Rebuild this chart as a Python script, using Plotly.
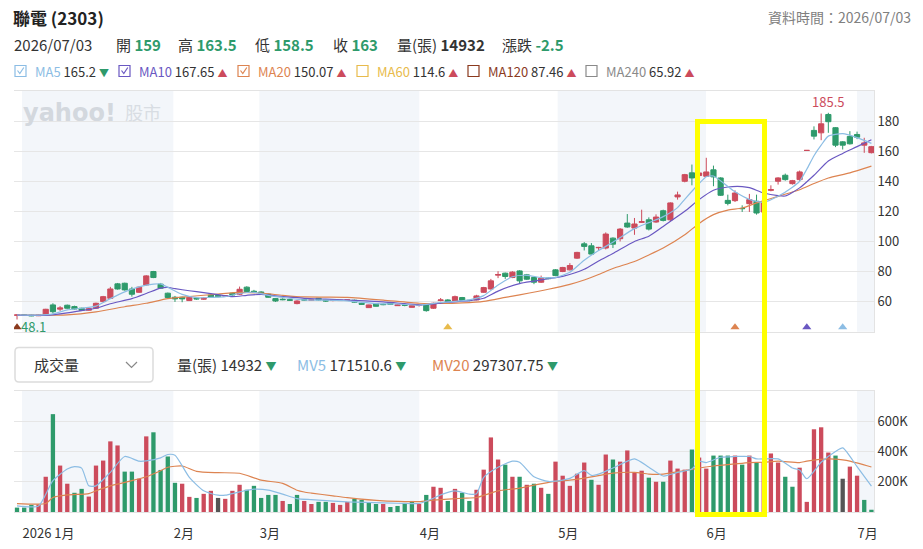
import plotly.graph_objects as go

# ---------------- data ----------------
open_ = [51.0, 51.2, 51.0, 50.6, 51.1, 57.8, 55.0, 57.6, 56.7, 55.6,
         54.3, 55.6, 60.0, 62.2, 71.8, 72.2, 68.4, 66.2, 71.1, 80.0,
         71.6, 65.6, 62.9, 62.9, 60.7, 62.2, 61.6, 64.4, 64.2, 63.8,
         65.6, 64.9, 69.6, 66.9, 66.4, 64.9, 62.0, 61.6, 61.3, 58.7,
         61.3, 60.9, 62.2, 61.1, 60.7, 60.7, 60.9, 60.9, 58.9, 56.0,
         58.7, 58.2, 59.3, 57.3, 57.8, 56.2, 57.6, 57.8, 55.6, 60.7,
         61.1, 60.0, 62.7, 60.9, 61.1, 66.2, 68.4, 77.6, 78.9, 76.0,
         80.4, 77.8, 76.0, 72.9, 75.6, 81.1, 80.0, 81.1, 88.9, 98.4,
         97.1, 95.8, 95.6, 102.2, 101.8, 112.2, 108.9, 112.7, 114.4, 112.9,
         120.4, 114.4, 129.6, 140.0, 145.6, 143.8, 143.3, 147.6, 142.2, 127.3,
         127.1, 122.0, 125.1, 126.7, 119.6, 134.0, 140.0, 144.0, 138.4, 141.1,
         160.5, 173.8, 172.2, 184.4, 175.6, 166.2, 169.8, 171.1, 164.0, 159.0]
high = [51.5, 51.6, 51.4, 51.3, 55.2, 58.9, 57.0, 58.0, 57.3, 55.9,
        56.0, 59.3, 63.8, 69.8, 72.4, 72.6, 69.8, 70.0, 77.6, 80.4,
        72.4, 66.0, 63.8, 63.3, 63.3, 62.7, 62.7, 64.9, 64.6, 64.2,
        66.0, 70.0, 70.2, 67.8, 66.9, 65.3, 62.4, 62.2, 61.8, 60.9,
        61.8, 61.6, 62.4, 61.3, 61.3, 61.1, 61.3, 61.3, 59.3, 58.0,
        59.1, 58.7, 59.8, 58.2, 58.4, 57.6, 58.0, 58.2, 59.3, 62.4,
        61.6, 64.0, 63.1, 61.1, 64.5, 69.8, 75.1, 80.2, 79.3, 80.2,
        80.9, 78.4, 76.4, 77.3, 76.0, 81.6, 83.1, 85.6, 93.1, 99.6,
        98.9, 96.4, 106.0, 102.7, 108.9, 118.2, 115.6, 121.1, 116.0, 118.0,
        121.1, 126.0, 133.1, 144.9, 151.1, 148.0, 155.6, 150.4, 142.7, 131.1,
        134.0, 124.0, 131.6, 131.1, 126.0, 137.3, 142.7, 145.1, 140.9, 147.1,
        160.5, 176.5, 185.0, 185.5, 176.0, 166.7, 173.3, 173.0, 168.9, 163.5]
low = [48.1, 50.6, 50.3, 50.4, 50.9, 52.2, 53.8, 55.3, 54.8, 54.0,
       54.0, 55.3, 59.6, 61.8, 68.0, 67.3, 63.3, 65.8, 70.7, 75.6,
       68.4, 61.8, 59.8, 59.6, 60.4, 61.3, 61.1, 62.4, 62.9, 63.3,
       63.8, 64.4, 66.2, 65.8, 65.3, 62.7, 59.8, 60.9, 60.4, 58.2,
       60.4, 60.4, 60.7, 59.8, 60.2, 60.4, 60.4, 59.3, 57.8, 55.8,
       56.7, 57.6, 58.0, 57.1, 56.9, 56.0, 56.7, 53.3, 55.1, 60.2,
       59.8, 59.8, 60.7, 60.2, 60.9, 65.8, 68.0, 75.6, 75.1, 75.6,
       72.2, 74.4, 71.6, 72.4, 74.9, 76.9, 79.6, 80.7, 88.4, 94.0,
       91.3, 94.0, 94.7, 95.6, 100.0, 109.1, 104.4, 112.4, 107.3, 112.4,
       113.3, 113.3, 127.8, 139.3, 137.3, 142.0, 142.9, 136.7, 130.2, 124.0,
       126.2, 119.6, 119.6, 117.8, 119.1, 133.3, 137.8, 140.4, 137.8, 140.0,
       160.5, 167.8, 167.3, 172.2, 162.7, 161.1, 164.4, 168.0, 158.9, 158.5]
close = [51.1, 50.9, 50.6, 51.0, 54.9, 53.3, 55.8, 55.6, 55.1, 54.2,
         55.3, 58.9, 63.3, 68.4, 68.4, 67.8, 64.9, 69.6, 77.1, 76.0,
         68.9, 62.7, 61.8, 61.8, 62.9, 61.8, 62.2, 62.9, 63.3, 63.8,
         64.4, 68.2, 66.7, 66.4, 65.8, 62.9, 60.4, 61.3, 60.9, 60.4,
         61.1, 61.3, 61.1, 60.4, 60.9, 60.9, 61.1, 59.6, 58.2, 57.8,
         56.9, 58.0, 58.2, 57.8, 57.6, 57.3, 57.8, 54.0, 58.9, 61.1,
         60.0, 63.3, 60.9, 60.7, 63.8, 69.3, 73.8, 78.0, 76.7, 79.6,
         73.8, 74.9, 72.9, 75.6, 75.3, 77.3, 82.7, 84.0, 92.7, 96.7,
         91.6, 96.0, 104.9, 98.2, 108.2, 109.6, 111.6, 113.1, 108.2, 116.2,
         114.0, 125.6, 130.9, 144.4, 142.2, 145.5, 146.2, 142.9, 130.7, 125.3,
         132.2, 121.8, 127.8, 118.9, 125.6, 134.4, 142.2, 141.1, 140.4, 146.2,
         160.5, 170.0, 178.2, 179.6, 164.0, 164.0, 164.9, 169.3, 165.5, 163.0]
volume_k = [29, 29, 47, 50, 233, 647, 307, 187, 127, 153,
            102, 307, 340, 467, 440, 267, 267, 220, 500, 527,
            278, 367, 193, 187, 100, 93, 120, 140, 93, 87,
            140, 180, 147, 173, 93, 113, 113, 73, 53, 113,
            73, 53, 67, 67, 60, 47, 67, 87, 80, 60,
            53, 53, 33, 40, 60, 73, 53, 113, 167, 160,
            73, 153, 127, 73, 147, 280, 493, 347, 313, 233,
            233, 180, 187, 160, 120, 333, 240, 173, 253, 327,
            213, 180, 380, 347, 333, 407, 260, 273, 227, 200,
            200, 340, 287, 280, 413, 360, 287, 373, 373, 373,
            373, 313, 373, 327, 330, 387, 327, 233, 167, 293,
            67, 547, 560, 393, 373, 220, 300, 240, 80, 14.932]
# r = up vs previous close, g = down, n = unchanged
volume_dir = list("gggrrgrrggrrrrrggrrggggrrgrrnrrrgggggrggr"
                  "rggrrrggggrggggrgrrgrggrrrrgrgrgrgrrrrrgr"
                  "rgrrrrgrgrrrgrrgggrgrgrrrggrrrrrgnrrgg")

ma5_x = [0, 3, 5, 7, 9, 11, 13, 15, 17, 19, 20, 21, 23, 25, 27, 29, 31, 33, 35, 37,
         40, 43, 46, 50, 53, 56, 59, 61, 63, 65, 67, 69, 71, 73, 75, 77, 79, 81, 83, 86,
         88, 90, 92, 93, 95, 96, 97, 99, 100, 102, 104, 106, 108, 109, 110, 111, 112, 113,
         115, 117, 119]
ma5_y = [51.1, 51.0, 51.8, 54.5, 55.6, 57.0, 62.0, 66.5, 69.8, 71.6, 71.8, 69.5, 64.8,
         62.6, 62.8, 63.3, 65.4, 66.2, 64.2, 62.8, 61.1, 61.0, 60.5, 58.6, 58.4, 57.6,
         59.4, 60.2, 61.2, 64.0, 71.0, 76.5, 77.5, 76.0, 76.0, 79.5, 87.5, 94.0, 99.5,
         108.5, 112.5, 116.5, 122.5, 128.0, 138.5, 143.0, 143.5, 136.5, 133.0, 128.0,
         126.0, 130.0, 136.0, 140.0, 148.0, 157.0, 164.0, 170.0, 171.6, 169.0, 165.2]
ma10_x = [0, 4, 7, 9, 11, 13, 16, 18, 20, 21, 22, 24, 26, 28, 30, 32, 34, 36, 38, 40,
          43, 46, 51, 54, 56, 58, 60, 63, 65, 67, 70, 72, 74, 76, 79, 81, 83, 86, 88, 90,
          93, 95, 97, 99, 101, 102, 104, 106, 107, 109, 111, 113, 115, 117, 119]
ma10_y = [51.0, 50.9, 52.5, 54.0, 55.6, 58.6, 62.0, 65.4, 69.0, 69.4, 68.6, 67.2, 66.0,
          64.6, 63.3, 64.2, 64.8, 63.8, 63.0, 62.2, 61.6, 61.0, 59.8, 58.6, 57.8, 58.4,
          59.6, 60.6, 62.2, 67.0, 72.0, 73.6, 75.2, 76.8, 81.5, 87.0, 92.0, 100.0, 103.5,
          110.0, 120.0, 127.8, 134.0, 136.2, 136.5, 135.8, 132.2, 130.4, 130.2, 135.6,
          144.0, 153.5, 158.5, 163.0, 167.65]
ma20_x = [0, 7, 11, 15, 18, 21, 24, 28, 31, 34, 37, 40, 43, 46, 51, 56, 59, 62, 65, 68,
          70, 74, 77, 79, 81, 83, 86, 88, 90, 93, 95, 97, 99, 101, 103, 106, 109, 111,
          113, 116, 119]
ma20_y = [51.0, 51.2, 53.2, 56.6, 58.9, 62.0, 63.4, 65.0, 66.1, 65.6, 64.2, 63.1, 63.0,
          62.8, 61.0, 58.9, 58.8, 59.2, 60.2, 62.8, 64.5, 68.2, 71.5, 74.4, 78.0, 82.0,
          86.7, 91.0, 95.6, 104.4, 112.0, 117.8, 120.8, 122.2, 125.6, 130.0, 134.4, 138.5,
          142.2, 145.6, 150.07]
mv5_x = [0, 3, 5, 7, 8, 9, 10, 11, 13, 15, 17, 18, 20, 21, 22, 24, 26, 28, 29, 31,
         33, 35, 37, 39, 41, 42, 46, 51, 55, 56, 58, 59, 61, 63, 64, 65, 67, 69, 70, 72,
         74, 76, 77, 79, 80, 81, 83, 86, 88, 90, 92, 94, 95, 96, 98, 100, 102, 103, 106,
         108, 109, 110, 112, 114, 115, 117, 119]
mv5_k = [40, 40, 207, 284, 300, 290, 173, 173, 262, 367, 336, 338, 358, 380, 375, 229,
         140, 111, 111, 133, 151, 145, 118, 89, 82, 78, 67, 60, 56, 56, 91, 113, 140, 118,
         121, 229, 296, 336, 329, 233, 202, 211, 222, 273, 242, 250, 291, 351, 296, 238,
         262, 284, 336, 327, 362, 367, 367, 351, 351, 291, 278, 220, 329, 400, 424, 300,
         171.5]
mv20_x = [0, 4, 5, 7, 10, 11, 13, 16, 18, 20, 21, 23, 25, 28, 31, 34, 37, 39, 40, 41,
          44, 46, 51, 54, 56, 58, 62, 64, 67, 70, 72, 75, 77, 79, 81, 83, 86, 88, 90, 93,
          95, 97, 100, 102, 104, 106, 109, 110, 113, 115, 116, 119]
mv20_k = [56, 56, 96, 113, 122, 140, 173, 207, 233, 273, 296, 304, 269, 260, 256, 211,
          189, 144, 132, 125, 107, 95, 73, 69, 69, 78, 91, 96, 140, 158, 178, 202, 211,
          224, 240, 257, 262, 251, 251, 273, 291, 304, 318, 327, 329, 336, 327, 336, 351,
          344, 336, 297.3]

month_labels = ["2026 1月", "2月", "3月", "4月", "5月", "6月", "7月"]
month_pos = [0.70, 21.77, 33.75, 56.03, 75.3, 95.96, 117.0]

signal_idx = [0, 60, 100, 110, 115]
signal_ma = ["MA120", "MA60", "MA20", "MA10", "MA5"]
low_idx, low_val = 0, 48.1
high_idx, high_val = 113, 185.5

ma_names = ["MA5", "MA10", "MA20", "MA60", "MA120", "MA240"]
ma_last = ["165.2", "167.65", "150.07", "114.6", "87.46", "65.92"]
ma_up = [False, True, True, True, True, True]
ma_checked = [True, True, True, False, False, False]

header = dict(name="聯電 (2303)", date="2026/07/03", open="159", high="163.5",
              low="158.5", close="163", vol="14932", chg="-2.5")
vol_legend = [("量(張)", "14932"), ("MV5", "171510.6"), ("MV20", "297307.75")]

# ---------------- styling ----------------
W, H = 923, 549
ML, MR, MT, MB = 14, 49, 91, 37
PW, PH = W - ML - MR, H - MT - MB
FONT = "Noto Sans CJK TC, Noto Sans, sans-serif"
RED, GREEN, FLAT = "#cc4b5c", "#2e9a6b", "#555555"
GRID, LINE, BAND = "#e6e6e6", "#e3e3e3", "#f3f6fa"
TXT = "#333333"
MA_COL = {"MA5": "#8cbde4", "MA10": "#6a58c2", "MA20": "#dd8451", "MA60": "#e8bb4c",
          "MA120": "#8b3a1e", "MA240": "#8a8a8a"}
XR = [-0.42, 119.36]


def px(x):
    return (x - ML) / PW


def py(y):
    return (H - MB - y) / PH


idx = list(range(len(close)))
fig = go.Figure()

fig.add_trace(go.Candlestick(
    x=idx, open=open_, high=high, low=low, close=close,
    increasing=dict(line=dict(color=RED, width=1), fillcolor=RED),
    decreasing=dict(line=dict(color=GREEN, width=1), fillcolor=GREEN),
    whiskerwidth=0, xaxis="x", yaxis="y", hoverinfo="skip"))

for xs, ys, nm in [(ma20_x, ma20_y, "MA20"), (ma10_x, ma10_y, "MA10"), (ma5_x, ma5_y, "MA5")]:
    fig.add_trace(go.Scatter(x=xs, y=ys, mode="lines",
                             line=dict(color=MA_COL[nm], width=1.2, shape="spline", smoothing=0.6),
                             xaxis="x", yaxis="y", hoverinfo="skip"))

fig.add_trace(go.Scatter(x=signal_idx, y=[42.9] * len(signal_idx), mode="markers",
                         marker=dict(symbol="triangle-up", size=8, color=[MA_COL[m] for m in signal_ma]),
                         xaxis="x", yaxis="y", hoverinfo="skip"))

dir_col = {"r": RED, "g": GREEN, "n": FLAT}
fig.add_trace(go.Bar(x=idx, y=[v * 1000 for v in volume_k], width=0.6,
                     marker=dict(color=[dir_col[d] for d in volume_dir], line=dict(width=0)),
                     xaxis="x2", yaxis="y2", hoverinfo="skip"))
fig.add_trace(go.Scatter(x=mv20_x, y=[v * 1000 for v in mv20_k], mode="lines",
                         line=dict(color=MA_COL["MA20"], width=1.2, shape="spline", smoothing=0.6),
                         xaxis="x2", yaxis="y2", hoverinfo="skip"))
fig.add_trace(go.Scatter(x=mv5_x, y=[v * 1000 for v in mv5_k], mode="lines",
                         line=dict(color=MA_COL["MA5"], width=1.2, shape="spline", smoothing=0.6),
                         xaxis="x2", yaxis="y2", hoverinfo="skip"))

shapes = []
# alternating month bands
bounds = month_pos + [XR[1]]
for i in range(0, len(month_pos), 2):
    for yr in ("y domain", "y2 domain"):
        shapes.append(dict(type="rect", xref="x", yref=yr, x0=bounds[i], x1=bounds[i + 1],
                           y0=0, y1=1, fillcolor=BAND, line=dict(width=0), layer="below"))

# highlight box
shapes.append(dict(type="rect", xref="paper", yref="paper", x0=px(697.5), x1=px(764.5),
                   y0=py(514.5), y1=py(121.5), line=dict(color="#ffff00", width=5),
                   fillcolor="rgba(0,0,0,0)", layer="above"))


def rrect(x0, y0, x1, y1, r):
    return (f"M{px(x0 + r)},{py(y0)} L{px(x1 - r)},{py(y0)} Q{px(x1)},{py(y0)} {px(x1)},{py(y0 + r)} "
            f"L{px(x1)},{py(y1 - r)} Q{px(x1)},{py(y1)} {px(x1 - r)},{py(y1)} "
            f"L{px(x0 + r)},{py(y1)} Q{px(x0)},{py(y1)} {px(x0)},{py(y1 - r)} "
            f"L{px(x0)},{py(y0 + r)} Q{px(x0)},{py(y0)} {px(x0 + r)},{py(y0)} Z")


# dropdown box
shapes.append(dict(type="path", xref="paper", yref="paper", path=rrect(15, 347.5, 153, 382, 4),
                   line=dict(color="#dcdcdc", width=1.5), fillcolor="white"))
shapes.append(dict(type="path", xref="paper", yref="paper",
                   path=f"M{px(126)},{py(362)} L{px(131.5)},{py(367.5)} L{px(137)},{py(362)}",
                   line=dict(color="#888888", width=1.2)))

annotations = []


def ann(x, y, text, size=13, color=TXT, anchor="left", family=FONT):
    annotations.append(dict(xref="paper", yref="paper", x=px(x), y=py(y), text=text,
                            showarrow=False, xanchor=anchor, yanchor="middle",
                            font=dict(size=size, color=color, family=family)))


ann(11, 17, f"<b>{header['name']}</b>", size=17, color="#222")
ann(913, 17, f"資料時間：{header['date']}", size=14, color="#808080", anchor="right")

ann(12, 44, header["date"], size=15)
pairs = [(114, "開", header["open"], GREEN), (176, "高", header["high"], GREEN),
         (253, "低", header["low"], GREEN), (331, "收", header["close"], GREEN),
         (395, "量(張)", header["vol"], TXT), (500, "漲跌", header["chg"], GREEN)]
for x, lab, val, col in pairs:
    ann(x, 44, f"{lab} <b><span style='color:{col}'>{val}</span></b>", size=15)

box_x = [15, 119, 238, 357, 468, 586]
for bx, nm, val, up, chk in zip(box_x, ma_names, ma_last, ma_up, ma_checked):
    c = MA_COL[nm]
    shapes.append(dict(type="rect", xref="paper", yref="paper", x0=px(bx), x1=px(bx + 11),
                       y0=py(76.5), y1=py(65.5), line=dict(color=c, width=1.2), fillcolor="white"))
    if chk:
        shapes.append(dict(type="path", xref="paper", yref="paper",
                           path=f"M{px(bx + 2.5)},{py(70.5)} L{px(bx + 4.8)},{py(73.5)} L{px(bx + 8.8)},{py(67.5)}",
                           line=dict(color=c, width=1.2)))
    tri = "▲" if up else "▼"
    tc = RED if up else GREEN
    ann(bx + 18, 71, f"<span style='color:{c}'>{nm}</span> {val} "
                     f"<span style='color:{tc};font-size:10px'>{tri}</span>", size=13)

ann(32, 364.5, "成交量", size=15)
leg_x = [175, 295, 430]
leg_col = [TXT, MA_COL["MA5"], MA_COL["MA20"]]
for lx, (nm, val), c in zip(leg_x, vol_legend, leg_col):
    ann(lx, 364, f"<span style='color:{c}'>{nm}</span> {val} "
                 f"<span style='color:{GREEN};font-size:11px'>▼</span>", size=15)

# watermark
ann(21, 113, "<b>yahoo!</b>", size=24, color="#d3d8de", family="DejaVu Sans")
ann(123, 112, "股市", size=18, color="#d8dde3")

# low / high labels
annotations.append(dict(xref="x", yref="y", x=low_idx, y=low_val, text=f"{low_val}", showarrow=False,
                        xanchor="left", yanchor="middle", xshift=2, yshift=-7,
                        font=dict(size=13, color=GREEN, family=FONT)))
annotations.append(dict(xref="x", yref="y", x=high_idx, y=high_val, text=f"{high_val}", showarrow=False,
                        xanchor="center", yanchor="middle", yshift=11,
                        font=dict(size=13, color=RED, family=FONT)))

fig.update_layout(
    width=W, height=H, margin=dict(l=ML, r=MR, t=MT, b=MB, autoexpand=False),
    paper_bgcolor="white", plot_bgcolor="white", showlegend=False,
    hovermode=False, boxgap=0.15, boxgroupgap=0.15,
    font=dict(family=FONT, size=13, color=TXT),
    shapes=shapes, annotations=annotations,
    xaxis=dict(domain=[0, 1], anchor="y", range=XR, showticklabels=False, showgrid=False,
               showline=True, mirror=True, linecolor=LINE, zeroline=False, ticks="",
               automargin=False, rangeslider=dict(visible=False)),
    yaxis=dict(domain=[py(331.7), 1], anchor="x", range=[40, 200], side="right",
               tickvals=[60, 80, 100, 120, 140, 160, 180], gridcolor=GRID, showline=True,
               linecolor=LINE, zeroline=False, ticks="", automargin=False,
               tickfont=dict(size=13, color=TXT)),
    xaxis2=dict(domain=[0, 1], anchor="y2", range=XR, tickvals=month_pos, ticktext=month_labels,
                ticklabelposition="outside right", showgrid=False, showline=True, mirror=True,
                linecolor=LINE, zeroline=False, ticks="", ticklabelstandoff=9, automargin=False,
                tickfont=dict(size=13, color=TXT)),
    yaxis2=dict(domain=[0, py(391)], anchor="x2", range=[0, 800000], side="right",
                tickvals=[200000, 400000, 600000], ticktext=["200K", "400K", "600K"],
                gridcolor=GRID, showline=True, linecolor=LINE, zeroline=False, ticks="",
                automargin=False, tickfont=dict(size=13, color=TXT)),
)

fig.write_html("out.html", config={"displayModeBar": False})
